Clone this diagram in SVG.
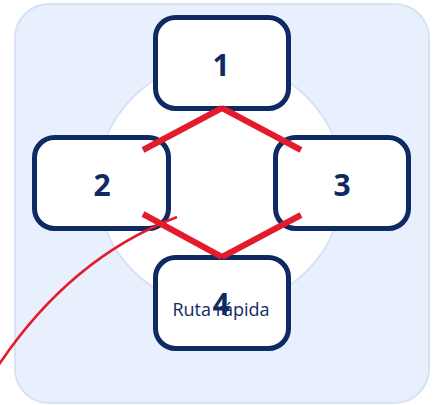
<svg xmlns="http://www.w3.org/2000/svg" width="434" height="405" viewBox="0 0 434 405">
<style>
.box{fill:#ffffff;stroke:#0f2a63;stroke-width:5}
.num{font-family:"Open Sans","Noto Sans",sans-serif;font-weight:bold;font-size:30px;fill:#0f2a63;text-anchor:middle}
.lbl{font-family:"Open Sans","Noto Sans",sans-serif;font-size:18px;fill:#0f2a63;text-anchor:middle}
.thick{fill:none;stroke:#e31b2b;stroke-width:6}
.thin{fill:none;stroke:#e31b2b;stroke-width:2.5}
</style>
<rect x="15" y="4" width="414" height="399" rx="34" fill="#e8f0fe" stroke="#d7e3f4" stroke-width="2"/>
<circle cx="220" cy="184" r="123" fill="#ffffff" stroke="#d7e3f4" stroke-width="2"/>
<g id="node1"><rect class="box" x="155.5" y="17.5" width="133" height="91" rx="20"/><text class="num" x="221" y="76">1</text></g>
<g id="node2"><rect class="box" x="34.5" y="137.5" width="134" height="91" rx="20"/><text class="num" x="102" y="196">2</text></g>
<g id="node3"><rect class="box" x="275.5" y="137.5" width="133" height="91" rx="20"/><text class="num" x="342" y="196">3</text></g>
<g id="node4"><rect class="box" x="155.5" y="257.5" width="133" height="91" rx="20"/><text class="lbl" x="221" y="316">Ruta rápida</text><text class="num" x="221" y="315">4</text></g>
<g id="connectors">
<path class="thin" d="M177 217 Q70 258 -2 366"/>
<line class="thick" x1="143" y1="150" x2="222" y2="108"/>
<line class="thick" x1="222" y1="108" x2="301" y2="150"/>
<line class="thick" x1="143" y1="214" x2="222" y2="257"/>
<line class="thick" x1="222" y1="257" x2="301" y2="215"/>
</g>
</svg>
